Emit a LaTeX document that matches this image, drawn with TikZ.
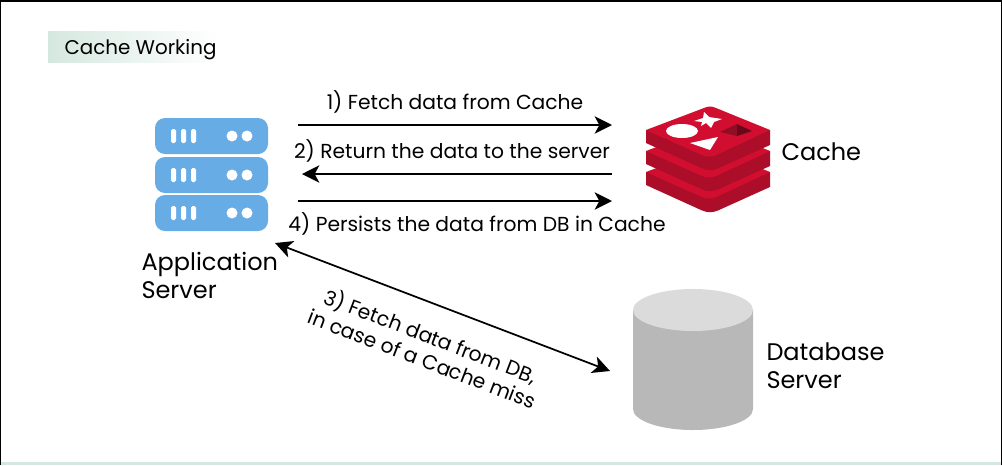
\documentclass[tikz,border=0pt]{standalone}
\usepackage{fontspec}
\setmainfont{Poppins}
\usetikzlibrary{arrows.meta}
\definecolor{serverblue}{RGB}{104,172,230}
\definecolor{redisred}{RGB}{210,14,48}
\definecolor{redisside}{RGB}{172,14,42}
\definecolor{redisdark}{RGB}{105,8,24}
\definecolor{titlegreen}{RGB}{213,232,224}
\tikzset{
	every picture/.style={line width=0.75pt},
	flow/.style={line width=1.3pt,-{Stealth[length=13pt,width=13pt,inset=3.5pt]}},
	flowboth/.style={line width=1.3pt,{Stealth[length=13pt,width=13pt,inset=3.5pt]}-{Stealth[length=13pt,width=13pt,inset=3.5pt]}},
	steplabel/.style={font=\fontsize{15.2pt}{18pt}\selectfont,align=center,inner sep=0pt},
	partlabel/.style={font=\fontsize{18pt}{21pt}\selectfont,align=left,inner sep=0pt},
	serverbar/.style={fill=white,rounded corners=1.2pt,draw opacity=0},
	rack/.style={fill=serverblue,draw opacity=0,rounded corners=7.5pt}
}

\begin{document}
\begin{tikzpicture}[x=0.75pt,y=0.75pt,yscale=-1,xscale=1]
	\useasboundingbox (0,0) rectangle (1002,465);
	%Frame
	\fill [white] (0,0) rectangle (1002,465);
	\fill [titlegreen] (0,462) rectangle (1002,465);
	\fill [black] (0,0) rectangle (1002,2);
	\fill [black] (0,0) rectangle (1,465);
	\fill [black] (1001,0) rectangle (1002,465);
	%Shape: Title band
	\path [left color=titlegreen,right color=white,draw opacity=0] (48,31) rectangle (218,62);

	%Shape: Server racks
	\foreach \y in {118,157,195} {
		\path [rack] (155,\y) rectangle (268,\y+36);
		\foreach \x in {171,181,191} {
			\path [serverbar] (\x,\y+11) rectangle (\x+5,\y+25);
		}
		\fill [white] (232,\y+18) circle (5.5);
		\fill [white] (247,\y+18) circle (5.5);
	}

	%Shape: Cache stack
	\foreach \y in {42,21,0} {
		\fill [redisside] (646,130+\y) -- (646,143+\y) -- (701,168+\y) .. controls (708,171+\y) and (712,171+\y) .. (719,168+\y) -- (770,145+\y) -- (770,130+\y) -- cycle ;
		\fill [redisred] (646,130+\y) -- (704,108+\y) .. controls (708,106+\y) and (712,106+\y) .. (716,108+\y) -- (770,130+\y) -- (716,155+\y) .. controls (711,157+\y) and (707,157+\y) .. (702,155+\y) -- cycle ;
	}
	\fill [white] (682,131) ellipse (16 and 7);
	\fill [white] (704,112) -- (709,117) -- (722,119) -- (714,122) -- (711,128) -- (706,123) -- (701,126) -- (702,122) -- (694,121) -- (703,118) -- cycle ;
	\fill [white] (690,143) -- (718,137) -- (710,150) -- cycle ;
	\fill [redisside!85!black] (720,132) -- (737,124) -- (737,136) -- cycle ;
	\fill [redisdark] (737,124) -- (752,131) -- (737,136) -- cycle ;

	%Shape: Database cylinder
	\fill [black!28] (633,310) -- (633,409) arc [start angle=180,end angle=0,x radius=60,y radius=21] -- (753,310) -- cycle ;
	\fill [black!14] (693,310) ellipse (60 and 21);

	%Connector ends
	\coordinate (srvA) at (298,125);
	\coordinate (cacheA) at (612,125);
	\coordinate (cacheB) at (612,174);
	\coordinate (srvB) at (302,174);
	\coordinate (srvC) at (298,201);
	\coordinate (cacheC) at (612,201);
	\coordinate (srvD) at (275,243);
	\coordinate (dbD) at (610,371);

	%Straight Lines
	\draw [flow] (srvA) -- (cacheA) ;
	\draw [flow] (cacheB) -- (srvB) ;
	\draw [flow] (srvC) -- (cacheC) ;
	\draw [flowboth] (srvD) -- (dbD) ;

	% Text Node
	\node (title) [anchor=west,inner sep=0pt,font=\fontsize{14.9pt}{17pt}\selectfont] at (64,50) {Cache Working};
	% Text Node
	\node (fetchcache) [steplabel] at (455,102) {1) Fetch data from Cache};
	% Text Node
	\node (returndata) [steplabel] at (452,151) {2) Return the data to the server};
	% Text Node
	\node (persist) [steplabel] at (477,224) {4) Persists the data from DB in Cache};
	% Text Node
	\node (fetchdb) [steplabel,rotate=-21] at (427,346) {3) Fetch data from DB,\\in case of a Cache miss};
	% Text Node
	\node (appserver) [partlabel,anchor=west] at (141,275) {Application\\Server};
	% Text Node
	\node (cachename) [partlabel,anchor=west] at (781,152) {Cache};
	% Text Node
	\node (dbserver) [partlabel,anchor=west] at (766,366) {Database\\Server};
\end{tikzpicture}
\end{document}
